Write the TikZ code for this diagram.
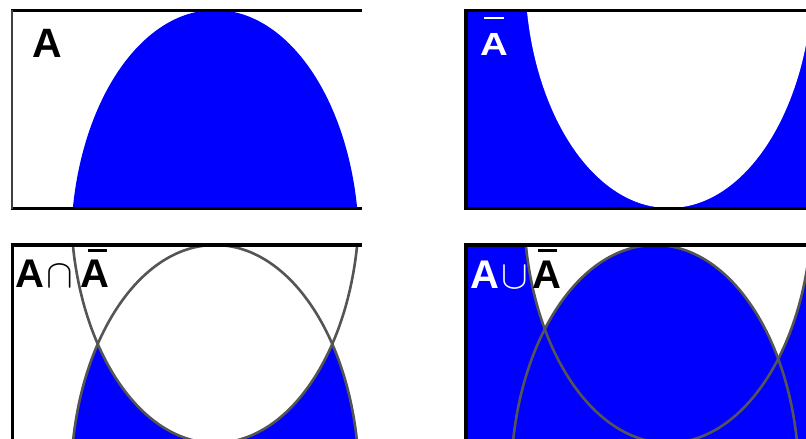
\RequirePackage{fix-cm}
\documentclass[tikz,border=0pt]{standalone}
\usepackage{graphicx}
\usepackage{fontspec}
\setmainfont{Liberation Sans}
\definecolor{setblue}{RGB}{0,0,255}
\definecolor{edge}{RGB}{85,85,85}
% A with a high macron: #1 bar offset, #2 bar raise, #3 bar width
\newcommand{\myAbar}[3]{\rlap{\hspace{#1}\raisebox{#2}{\rule{#3}{2.6pt}}}A}
\tikzset{
  lbl/.style={inner sep=0pt, outer sep=0pt, anchor=base west, font=\fontsize{40}{48}\selectfont\bfseries},
  opsym/.style={inner sep=0pt, outer sep=0pt, anchor=base, font=\fontsize{40}{48}\selectfont},
  ovl/.style={draw=edge, line width=2.6pt},
  frameline/.style={draw=black, line width=2.5pt},
  E1/.style={x radius=144, y radius=236},
  E2/.style={x radius=144, y radius=236}
}
\begin{document}
\begin{tikzpicture}[x=1pt,y=-1pt]
\useasboundingbox (0,0) rectangle (806,439);
% ---------- Panel 1: A ----------
\begin{scope}
  \clip (11,10) rectangle (362,208.5);
  \fill[setblue] (215,246) ellipse [E1];
\end{scope}
\draw[frameline] (11,10.3) -- (362,10.3);
\draw[frameline] (11,208.5) -- (362,208.5);
\draw[draw=black!75, line width=2pt] (12,10) -- (12,208.5);
\node[lbl, font=\fontsize{41}{48}\selectfont\bfseries] (lbA) at (32,57) {A};
% ---------- Panel 2: complement ----------
\begin{scope}
  \clip (465,10) rectangle (806,208.5);
  \fill[setblue] (465,10) rectangle (806,208.5);
  \fill[white] (669,-28) ellipse [E2];
\end{scope}
\draw[frameline] (465,10.3) -- (806,10.3);
\draw[frameline] (465,208.5) -- (806,208.5);
\draw[draw=black, line width=3.5pt] (466.2,9) -- (466.2,209.7);
\node[lbl, text=white, font=\fontsize{32}{38}\selectfont\bfseries] (lbNotA) at (480,55)
  {\rlap{\hspace{4pt}\raisebox{35.6pt}{\rule{20pt}{2.3pt}}}\scalebox{1.2}[1]{A}};
% ---------- Panel 3: intersection ----------
\begin{scope}
  \clip (11,245) rectangle (362,445);
  \fill[setblue] (215,481) ellipse [E1];
  \fill[white] (215,207) ellipse [E2];
  \draw[ovl] (215,481) ellipse [E1];
  \draw[ovl] (215,207) ellipse [E2];
\end{scope}
\draw[draw=black, line width=3.5pt] (11,245) -- (362,245);
\draw[draw=black, line width=3pt] (12.3,243.3) -- (12.3,439);
\node[lbl] (lbIA) at (15,287) {A};
\node[opsym] (lbCap) at (60,287) {$\cap$};
\node[lbl] (lbINotA) at (80,287) {\myAbar{8pt}{35pt}{19pt}};
% ---------- Panel 4: union ----------
\begin{scope}
  \clip (465,245) rectangle (806,445);
  \fill[setblue] (465,245) rectangle (806,445);
  \fill[white] (668,207) ellipse [E2];
  \fill[setblue] (655,481) ellipse [E1];
  \draw[ovl] (655,481) ellipse [E1];
  \draw[ovl] (668,207) ellipse [E2];
\end{scope}
\draw[draw=black, line width=4pt] (465,245.3) -- (806,245.3);
\draw[draw=black, line width=3.5pt] (466.2,243.3) -- (466.2,439);
\node[lbl, text=white] (lbUA) at (470,288) {A};
\node[opsym, text=white] (lbCup) at (514.5,288) {$\cup$};
\node[lbl] (lbUNotA) at (532,288) {\myAbar{6pt}{36pt}{19pt}};
\end{tikzpicture}
\end{document}
